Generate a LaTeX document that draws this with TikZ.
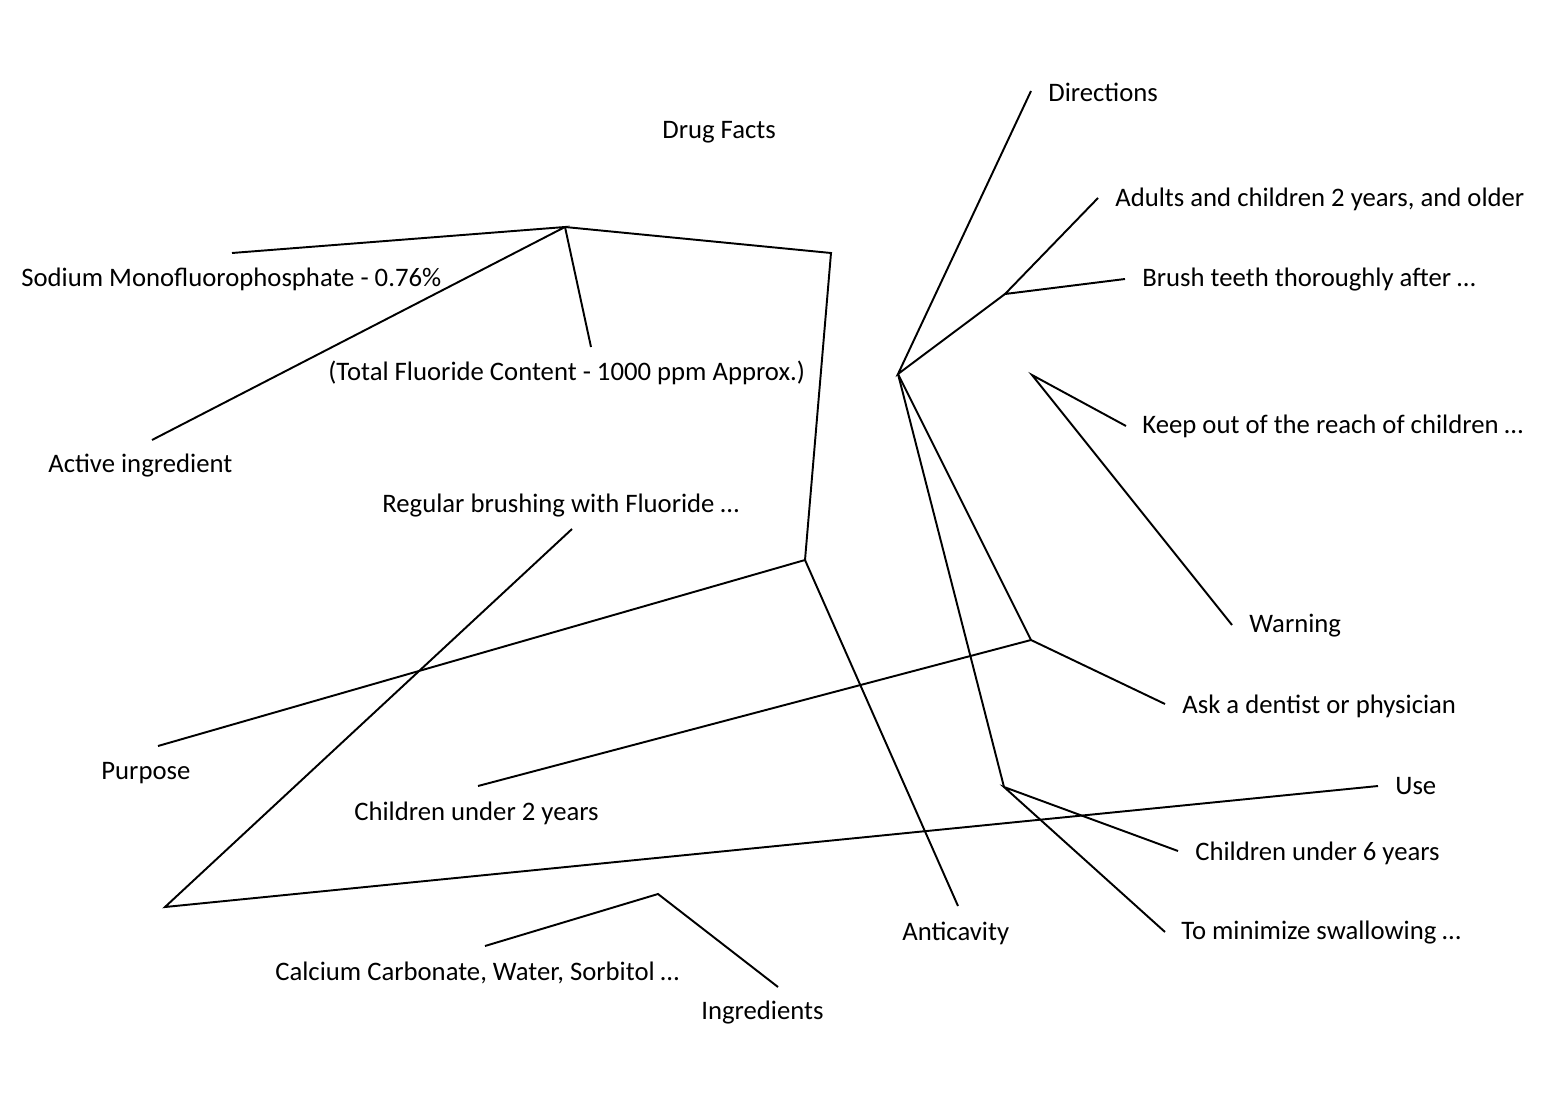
\documentclass[tikz,border=0pt]{standalone}
\usepackage{fontspec}
\setmainfont{Carlito}
\usepackage{tikz}
\usetikzlibrary{positioning}

\begin{document}
\begin{tikzpicture}[
        x=0.02cm, y=-0.02cm,
        every node/.style={anchor=west,inner sep=0pt,font=\fontsize{15.2}{18}\selectfont},
        branch/.style={line width=1.1pt,line join=miter}
    ]
        \useasboundingbox (0,0) rectangle (1551,1101);

        % labels
        \node (drug) at (662,132) {Drug Facts};
        \node (sodium) at (21,279) {Sodium Monofluorophosphate - 0.76\%};
        \node (total) at (328,373) {(Total Fluoride Content - 1000 ppm Approx.)};
        \node (active) at (48,466) {Active ingredient};
        \node (regular) at (382,506) {Regular brushing with Fluoride …};
        \node (purpose) at (101,773) {Purpose};
        \node (under2) at (354,813) {Children under 2 years};
        \node (anticav) at (902,933) {Anticavity};
        \node (calcium) at (275,973) {Calcium Carbonate, Water, Sorbitol …};
        \node (ingred) at (701,1013) {Ingredients};
        \node (direct) at (1048,92) {Directions};
        \node (adults) at (1115,199) {Adults and children 2 years, and older};
        \node (brush) at (1142,280) {Brush teeth thoroughly after …};
        \node (keep) at (1142,426) {Keep out of the reach of children …};
        \node (warn) at (1249,626) {Warning};
        \node (ask) at (1182,706) {Ask a dentist or physician};
        \node (use) at (1395,786) {Use};
        \node (under6) at (1195,853) {Children under 6 years};
        \node (minim) at (1181,933) {To minimize swallowing …};

        % junctions
        \coordinate (jActive) at (565,227);
        \coordinate (jBend) at (831,253);
        \coordinate (jPurpose) at (805,560);
        \coordinate (jUse) at (165,907);
        \coordinate (jDirect) at (898,374);
        \coordinate (jBrush) at (1005,294);
        \coordinate (jAsk) at (1031,640);
        \coordinate (jUnder6) at (1004,787);
        \coordinate (jWarn) at (1032,375);
        \coordinate (jIngred) at (658,894);

        % free ends
        \coordinate (eSodium) at (232,253);
        \coordinate (eActive) at (152,440);
        \coordinate (eTotal) at (591,347);
        \coordinate (ePurpose) at (158,746);
        \coordinate (eAnticav) at (958,906);
        \coordinate (eRegular) at (572,529);
        \coordinate (eUse) at (1378,786);
        \coordinate (eDirect) at (1031,91);
        \coordinate (eAdults) at (1098,198);
        \coordinate (eBrush) at (1125,279);
        \coordinate (eUnder2) at (478,786);
        \coordinate (eAsk) at (1165,704);
        \coordinate (eUnder6) at (1178,851);
        \coordinate (eMinim) at (1165,932);
        \coordinate (eKeep) at (1126,426);
        \coordinate (eWarn) at (1232,625);
        \coordinate (eCalcium) at (485,946);
        \coordinate (eIngred) at (778,987);

        % branches
        \draw[branch] (eSodium) -- (jActive) -- (eActive);
        \draw[branch] (jActive) -- (eTotal);
        \draw[branch] (jActive) -- (jBend) -- (jPurpose);
        \draw[branch] (ePurpose) -- (jPurpose) -- (eAnticav);
        \draw[branch] (eRegular) -- (jUse) -- (eUse);
        \draw[branch] (eDirect) -- (jDirect) -- (jBrush);
        \draw[branch] (eAdults) -- (jBrush) -- (eBrush);
        \draw[branch] (jDirect) -- (jAsk);
        \draw[branch] (eUnder2) -- (jAsk) -- (eAsk);
        \draw[branch] (jDirect) -- (jUnder6);
        \draw[branch] (eUnder6) -- (jUnder6) -- (eMinim);
        \draw[branch] (eKeep) -- (jWarn) -- (eWarn);
        \draw[branch] (eCalcium) -- (jIngred) -- (eIngred);

    \end{tikzpicture}
\end{document}
